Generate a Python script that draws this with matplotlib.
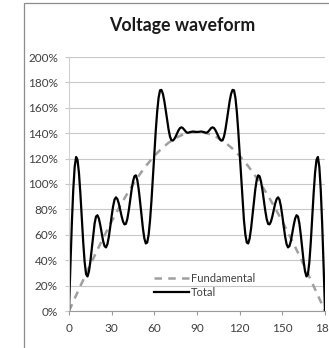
import matplotlib.pyplot as plt
from matplotlib.patches import Rectangle
from matplotlib.ticker import FuncFormatter

plt.rcParams['font.family'] = ['Lato', 'DejaVu Sans']

# angle in degrees, one reading per degree
angle = list(range(0, 181))
total = [
    0, 36.1, 69.0, 95.6, 113.6, 121.3, 118.9, 108.7, 92.5, 73.3,
    54.1, 38.5, 29.0, 27.2, 31.0, 38.8, 49.1, 59.8, 68.9, 74.4,
    75.4, 72.8, 67.6, 61.2, 55.1, 51.1, 50.1, 52.6, 58.4, 66.3,
    74.9, 82.4, 87.7, 89.5, 88.2, 84.7, 79.8, 74.6, 70.4, 68.2,
    68.6, 72.4, 79.0, 87.1, 95.3, 102.0, 106.1, 106.8, 103.3, 95.9,
    85.9, 75.0, 64.8, 57.1, 53.2, 53.9, 60.2, 71.6, 87.1, 105.2,
    124.0, 141.9, 157.0, 168.0, 173.8, 174.1, 171.1, 165.5, 158.2, 150.3,
    143.0, 137.4, 134.4, 134.2, 135.3, 137.4, 139.9, 142.3, 144.0, 144.6,
    144.1, 142.8, 141.4, 140.4, 140.4, 140.8, 141.1, 141.3, 141.2, 141.0,
    141.0,
    141.0, 141.2, 141.3, 141.1, 140.8, 140.4, 140.4, 141.4, 142.8,
    144.1, 144.6, 144.0, 142.3, 139.9, 137.4, 135.3, 134.2, 134.4, 137.4,
    143.0, 150.3, 158.2, 165.5, 171.1, 174.1, 173.8, 168.0, 157.0, 141.9,
    124.0, 105.2, 87.1, 71.6, 60.2, 53.9, 53.2, 57.1, 64.8, 75.0,
    85.9, 95.9, 103.3, 106.8, 106.1, 102.0, 95.3, 87.1, 79.0, 72.4,
    68.6, 68.2, 70.4, 74.6, 79.8, 84.7, 88.2, 89.5, 87.7, 82.4,
    74.9, 66.3, 58.4, 52.6, 50.1, 51.1, 55.1, 61.2, 67.6, 72.8,
    75.4, 74.4, 68.9, 59.8, 49.1, 38.8, 31.0, 27.2, 29.0, 38.5,
    54.1, 73.3, 92.5, 108.7, 118.9, 121.3, 113.6, 95.6, 69.0, 36.1,
    0,
]

# fundamental, one reading every 5 degrees
fund_angle = list(range(0, 181, 5))
fundamental = [
    0, 12.3, 24.5, 36.5, 48.2, 59.6, 70.5, 80.9, 90.6, 99.7,
    108.0, 115.5, 122.1, 127.8, 132.5, 136.2, 138.9, 140.5, 141.0,
    140.5, 138.9, 136.2, 132.5, 127.8, 122.1, 115.5, 108.0, 99.7, 90.6,
    80.9, 70.5, 59.6, 48.2, 36.5, 24.5, 12.3, 0,
]

x_ticks = [0, 30, 60, 90, 120, 150, 180]
y_ticks = [0, 20, 40, 60, 80, 100, 120, 140, 160, 180, 200]

fig = plt.figure(figsize=(3.29, 3.48), dpi=100)
# chart-area border, cropped on the right and bottom like the source image
fig.patches.append(Rectangle((24 / 329, -0.1), 1.2, (345 / 348) + 0.1,
                             transform=fig.transFigure, fill=False,
                             edgecolor="#8c8c8c", lw=0.9))
ax = fig.add_axes([69 / 329, 37 / 348, 256 / 329, 254 / 348])

ax.plot(fund_angle, fundamental, color="#a0a0a0", lw=1.8, dashes=(3, 2.5),
        label="Fundamental")
ax.plot(angle, total, color="black", lw=1.6, label="Total")

ax.set_xlim(0, 180)
ax.set_ylim(0, 200)
ax.set_xticks(x_ticks)
ax.set_yticks(y_ticks)
ax.yaxis.set_major_formatter(FuncFormatter(lambda v, p: f"{v:.0f}%"))
ax.grid(axis="y", color="#c8c8c8", lw=0.8)
ax.set_axisbelow(True)
for side in ("top", "right"):
    ax.spines[side].set_visible(False)
ax.spines["left"].set_color("#d0d0d0")
ax.spines["bottom"].set_color("#9a9a9a")
ax.tick_params(axis="y", length=3, color="#c8c8c8", labelcolor="#404040",
               labelsize=8.5, pad=5)
ax.tick_params(axis="x", length=3, color="#9a9a9a", labelcolor="#404040",
               labelsize=8.5, pad=6)

fig.text(182.5 / 329, 1 - 25 / 348, "Voltage waveform", ha="center",
         va="center", fontsize=12.8, fontweight="bold", color="#1a1a1a")

ax.legend(loc="lower left", bbox_to_anchor=(85 / 256, 0.05), frameon=False,
          fontsize=8, handlelength=3.15, handletextpad=0.18,
          labelspacing=0.3, borderpad=0, borderaxespad=0,
          labelcolor="#404040")

fig.savefig("out.png", dpi=100)
